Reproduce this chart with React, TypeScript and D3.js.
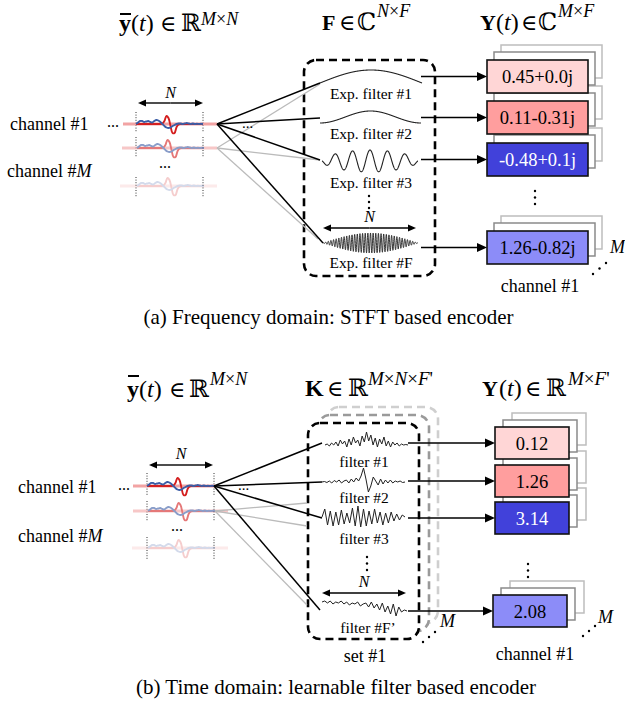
import React from "react";
import * as d3 from "d3";

// ---------------- data ----------------
const redSignal = [0, 0, 0, 0, 0, 0, 0, 0, 0, 0, 0, 0, 0, 0.5, 3, 8, 6, -2, -9, -9, -3, -0.5, 0, 0, 0, 0, 0, 0, 0, 0, 0, 0, 0, 0];
const blueSignal = [0, 1.5, 3, 3, 2, 2.5, 3, 2, 1.5, 3, 4, 3.5, 2, 0, -2, -3.5, -4, -3.5, -2, -1, 0, 0.5, 0.5, 0, 0.5, 1, 0.5, 0, 0.5, 0, 0.3, 0, 0.2, 0];

const expFilterLabels = ["Exp. filter #1", "Exp. filter #2", "Exp. filter #3", "Exp. filter #F"];
const expFilterCycles = [0.5, 1, 5.5, 36];
const expFilterTaper = [0, 0, 0.5, 1];
const stftOutputs = ["0.45+0.0j", "0.11-0.31j", "-0.48+0.1j", "1.26-0.82j"];

const learnedFilter1 = [0, 1, -1, 2, 0, 3, -1, 5, 1, 4, -2, 6, 0, 8, 2, 5, -1, 9, 3, 13, 4, 10, 0, 7, -2, 6, 1, 8, -1, 4, -2, 3, 0, 2, -1, 1, 0, 0.5, 0];
const learnedFilter2 = [0, 0.5, -0.5, 1, -1, 1.5, 0, 2, -1, 1, 2, -1, 3, 0, 4, 1, 6, 14, 3, -10, -4, 5, 1, -3, 3, -2, 2, -1, 2, -1, 1, 0, 1, -0.5, 0];
const learnedFilter3 = [0, 8, -8, 6, -9, 5, -8, 7, -7, 4, -6, 9, -9, 11, -10, 8, -9, 6, -7, 8, -6, 5, -8, 4, -6, 5, -4, 3, -3, 2, 0];
const learnedFilterF = [2, 3, 1, 3, 0, 2, 1, 3, 0, 2, -1, 1, 0, 2, -2, 0, 1, -3, 2, -4, 0, -6, 1, -8, -2, -10, 0, -12, -3, -8, -6, -7];
const learnedFilterLabels = ["filter #1", "filter #2", "filter #3", "filter #F\u2019"];
const timeOutputs = ["0.12", "1.26", "3.14", "2.08"];

const captions = ["(a) Frequency domain: STFT based encoder", "(b) Time domain: learnable filter based encoder"];

// ---------------- styles ----------------
const SERIF = "'Liberation Serif', 'Times New Roman', serif";
const MATH = "'DejaVu Serif', 'Liberation Serif', serif";
const boxFills = ["#ffd6d6", "#ff9e9e", "#4141da", "#8c8cf8"];
const boxTextColors = ["#000", "#000", "#fff", "#000"];
const RED = "#d41f1f";
const BLUE = "#3b5da6";
const PINK = "#f2a3a3";

function wavePath(values: number[], x0: number, x1: number, y0: number, curve: any) {
  const x = d3.scaleLinear().domain([0, values.length - 1]).range([x0, x1]);
  return d3.line<number>().x((_, i) => x(i)).y((v) => y0 - v).curve(curve)(values) || "";
}

function expFilterValues(cycles: number, taper: number, amp: number, n = 700) {
  return d3.range(n).map((i) => {
    const t = i / (n - 1);
    const env = taper ? Math.pow(Math.sin(Math.PI * t), taper) : 1;
    return amp * env * Math.cos(2 * Math.PI * cycles * (t - 0.5));
  });
}

function Arrow({ x1, y1, x2, y2, head = 10, w = 4.5, color = "#000", sw = 1.3 }: any) {
  const ang = Math.atan2(y2 - y1, x2 - x1);
  const bx = x2 - head * Math.cos(ang);
  const by = y2 - head * Math.sin(ang);
  const px = -Math.sin(ang) * w;
  const py = Math.cos(ang) * w;
  return (
    <g>
      <line x1={x1} y1={y1} x2={bx} y2={by} stroke={color} strokeWidth={sw} />
      <polygon points={`${x2},${y2} ${bx + px},${by + py} ${bx - px},${by - py}`} fill={color} />
    </g>
  );
}

function DoubleArrow({ x1, x2, y, label, ly }: any) {
  const m = (x1 + x2) / 2;
  return (
    <g>
      <Arrow x1={m} y1={y} x2={x1} y2={y} head={8} w={3.5} sw={1.4} />
      <Arrow x1={m} y1={y} x2={x2} y2={y} head={8} w={3.5} sw={1.4} />
      <text x={m} y={ly} fontSize={16} fontStyle="italic" textAnchor="middle">{label}</text>
    </g>
  );
}

function Channel({ win, base, pink, opacity, shift = 0 }: any) {
  return (
    <g opacity={opacity}>
      <line x1={pink[0]} x2={pink[1]} y1={base} y2={base} stroke={PINK} strokeWidth={3} />
      <path d={wavePath(redSignal, win[0] + shift, win[1] + shift, base, d3.curveCatmullRom)} fill="none" stroke={RED} strokeWidth={1.9} />
      <path d={wavePath(blueSignal, win[0] + shift, win[1] + shift, base, d3.curveCatmullRom)} fill="none" stroke={BLUE} strokeWidth={1.9} />
    </g>
  );
}

function Dotted({ x, segs }: any) {
  return (
    <g>
      {segs.map((s: number[], i: number) => (
        <line key={i} x1={x} x2={x} y1={s[0]} y2={s[1]} stroke="#333" strokeWidth={1} strokeDasharray="1 1.6" />
      ))}
    </g>
  );
}

function VDots({ x, ys }: any) {
  return <g>{ys.map((y: number, i: number) => <circle key={i} cx={x} cy={y} r={1.2} fill="#000" />)}</g>;
}

function OutputStack({ x, y, w, h, off1, off2, fill, text, textColor }: any) {
  return (
    <g>
      <rect x={x + off2[0]} y={y + off2[1]} width={w} height={h} fill="#fff" stroke="#bdbdbd" strokeWidth={1.5} />
      <rect x={x + off1[0]} y={y + off1[1]} width={w} height={h} fill="#fff" stroke="#8a8a8a" strokeWidth={1.5} />
      <rect x={x} y={y} width={w} height={h} fill={fill} stroke="#111" strokeWidth={1.6} />
      <text x={x + w / 2} y={y + h / 2 + 6.5} fontSize={18.5} textAnchor="middle" fill={textColor}>{text}</text>
    </g>
  );
}

function ChannelLabel({ x, y, m }: any) {
  return (
    <text x={x} y={y} fontSize={18}>
      channel #{m ? <tspan fontStyle="italic">M</tspan> : "1"}
    </text>
  );
}

export default function App() {
  // ---- panel A geometry ----
  const aWin = [136, 203];
  const aFan1: [number, number] = [217, 124];
  const aFan2: [number, number] = [217, 148];
  const aBlack = [[320, 83], [320, 118], [320, 160], [323, 243]];
  const aGray = [[320, 84], [320, 160], [318, 239]];
  const aFilterBase = [83, 117, 161, 243];
  const aFilterAmp = [13, 6, 11, 10];
  const aFilterX = [[320, 422], [320, 421], [322, 418], [323, 418]];
  const aLabelY = [99, 139, 188, 268];
  const aBoxY = [60, 101, 143, 231];

  // ---- panel B geometry ----
  const bWin = [147, 214];
  const bFan1: [number, number] = [214, 486];
  const bFan2: [number, number] = [215, 511];
  const bBlack = [[322, 443], [322, 482], [322, 518], [320, 610]];
  const bGray = [[307, 503], [307, 526], [307, 605]];
  const bFilters = [learnedFilter1, learnedFilter2, learnedFilter3, learnedFilterF];
  const bFilterBase = [445, 482, 517, 604];
  const bFilterX = [[325, 408], [322, 405], [322, 405], [322, 407]];
  const bLabelY = [467, 503, 544, 633];
  const bBoxY = [427, 465, 502, 595];
  const bBoxX = [495, 495, 495, 493];

  return (
    <svg width={625} height={702} style={{ position: "absolute", left: 0, top: 0, background: "#fff" }} fontFamily={SERIF}>
      <rect x={0} y={0} width={625} height={702} fill="#fff" />

      {/* ================= Panel A ================= */}
      <g>
        <text x={119} y={31} fontSize={24} fontWeight="bold">y</text>
        <line x1={120} x2={131} y1={14} y2={14} stroke="#000" strokeWidth={2} />
        <text x={131} y={31} fontSize={24}>(<tspan fontStyle="italic">t</tspan>)</text>
        <text x={160} y={31} fontSize={22} fontFamily={MATH}>∈</text>
        <text x={181} y={31} fontSize={24} fontFamily={MATH}>ℝ</text>
        <text x={201} y={25} fontSize={18} fontStyle="italic">M<tspan fontStyle="normal">×</tspan>N</text>

        <text x={322} y={30} fontSize={22} fontWeight="bold">F</text>
        <text x={339} y={30} fontSize={22} fontFamily={MATH}>∈</text>
        <text x={357} y={30} fontSize={24} fontFamily={MATH}>ℂ</text>
        <text x={377} y={17} fontSize={18} fontStyle="italic">N<tspan fontStyle="normal">×</tspan>F</text>

        <text x={480} y={30} fontSize={22} fontWeight="bold">Y</text>
        <text x={496} y={30} fontSize={24}>(<tspan fontStyle="italic">t</tspan>)</text>
        <text x={521} y={30} fontSize={22} fontFamily={MATH}>∈</text>
        <text x={538} y={30} fontSize={24} fontFamily={MATH}>ℂ</text>
        <text x={558} y={17} fontSize={18} fontStyle="italic">M<tspan fontStyle="normal">×</tspan>F</text>
      </g>

      <ChannelLabel x={10} y={130} />
      <ChannelLabel x={7} y={177} m />
      <text x={107} y={127} fontSize={16}>...</text>
      <text x={165} y={168} fontSize={16} textAnchor="middle">...</text>
      <DoubleArrow x1={138} x2={203} y={103} label="N" ly={98} />
      <Dotted x={aWin[0]} segs={[[112, 132], [137, 157], [177, 197]]} />
      <Dotted x={aWin[1]} segs={[[112, 132], [137, 157], [177, 197]]} />
      <Channel win={aWin} base={186} pink={[120, 217]} opacity={0.22} shift={1} />
      <Channel win={aWin} base={148} pink={[122, 217]} opacity={0.6} shift={1} />
      <Channel win={aWin} base={124} pink={[123, 217]} opacity={1} />

      <rect x={304} y={60} width={131} height={216} rx={12} fill="none" stroke="#000" strokeWidth={2.6} strokeDasharray="8 5" />

      {aGray.map((p, i) => (
        <line key={"ag" + i} x1={aFan2[0]} y1={aFan2[1]} x2={p[0]} y2={p[1]} stroke="#bbb" strokeWidth={1.3} />
      ))}
      {aBlack.map((p, i) => (
        <line key={"ab" + i} x1={aFan1[0]} y1={aFan1[1]} x2={p[0]} y2={p[1]} stroke="#000" strokeWidth={1.5} />
      ))}
      <text x={242} y={128} fontSize={15}>...</text>

      {expFilterCycles.map((c, i) => (
        <path
          key={"ef" + i}
          d={wavePath(expFilterValues(c, expFilterTaper[i], aFilterAmp[i]), aFilterX[i][0], aFilterX[i][1], aFilterBase[i], d3.curveLinear)}
          fill="none"
          stroke="#222"
          strokeWidth={i === 3 ? 0.9 : 1.1}
        />
      ))}
      {expFilterLabels.map((l, i) => (
        <text key={"el" + i} x={371} y={aLabelY[i]} fontSize={15.5} textAnchor="middle">{l}</text>
      ))}
      <VDots x={369} ys={[196, 202, 208]} />
      <DoubleArrow x1={323} x2={416} y={228} label="N" ly={222} />

      {[3, 2, 1, 0].map((i) => (
        <OutputStack key={"ao" + i} x={487} y={aBoxY[i]} w={101} h={33} off1={[7, -8]} off2={[14, -15]} fill={boxFills[i]} text={stftOutputs[i]} textColor={boxTextColors[i]} />
      ))}
      {aBoxY.map((y, i) => (
        <Arrow key={"aa" + i} x1={421} y1={y + 16.5} x2={487} y2={y + 16.5} />
      ))}
      <VDots x={535} ys={[191, 197.5, 204]} />
      <text x={610} y={253} fontSize={18} fontStyle="italic">M</text>
      <circle cx={593} cy={274} r={1.2} />
      <circle cx={599.5} cy={268.5} r={1.2} />
      <circle cx={606} cy={263} r={1.2} />
      <text x={540} y={292} fontSize={18} textAnchor="middle">channel #1</text>

      <text x={328.5} y={324} fontSize={21} textAnchor="middle">{captions[0]}</text>

      {/* ================= Panel B ================= */}
      <g>
        <text x={127} y={397} fontSize={24} fontWeight="bold">y</text>
        <line x1={128} x2={139} y1={376} y2={376} stroke="#000" strokeWidth={2} />
        <text x={139} y={397} fontSize={24}>(<tspan fontStyle="italic">t</tspan>)</text>
        <text x={169} y={397} fontSize={22} fontFamily={MATH}>∈</text>
        <text x={189} y={397} fontSize={24} fontFamily={MATH}>ℝ</text>
        <text x={210} y={385} fontSize={18} fontStyle="italic">M<tspan fontStyle="normal">×</tspan>N</text>

        <text x={305} y={396} fontSize={24} fontWeight="bold">K</text>
        <text x={327} y={396} fontSize={22} fontFamily={MATH}>∈</text>
        <text x={348} y={396} fontSize={24} fontFamily={MATH}>ℝ</text>
        <text x={368} y={385} fontSize={19} fontStyle="italic">M<tspan fontStyle="normal">×</tspan>N<tspan fontStyle="normal">×</tspan>F<tspan fontStyle="normal">'</tspan></text>

        <text x={482} y={396} fontSize={22} fontWeight="bold">Y</text>
        <text x={499} y={396} fontSize={24}>(<tspan fontStyle="italic">t</tspan>)</text>
        <text x={525} y={396} fontSize={22} fontFamily={MATH}>∈</text>
        <text x={546} y={396} fontSize={24} fontFamily={MATH}>ℝ</text>
        <text x={568} y={385} fontSize={19} fontStyle="italic">M<tspan fontStyle="normal">×</tspan>F<tspan fontStyle="normal">'</tspan></text>
      </g>

      <ChannelLabel x={18} y={493} />
      <ChannelLabel x={18} y={542} m />
      <text x={118} y={490} fontSize={16}>...</text>
      <text x={177} y={531} fontSize={16} textAnchor="middle">...</text>
      <DoubleArrow x1={149} x2={213} y={465} label="N" ly={459} />
      <Dotted x={bWin[0]} segs={[[473, 495], [501, 521], [537, 560]]} />
      <Dotted x={bWin[1]} segs={[[473, 495], [501, 521], [537, 560]]} />
      <Channel win={bWin} base={548} pink={[132, 228]} opacity={0.22} shift={1} />
      <Channel win={bWin} base={511} pink={[133, 228]} opacity={0.6} shift={1} />
      <Channel win={bWin} base={486} pink={[133, 215]} opacity={1} />

      <rect x={327} y={407} width={111} height={216} rx={12} fill="#fff" stroke="#cfcfcf" strokeWidth={2.6} strokeDasharray="8 5" />
      <rect x={318} y={415} width={111} height={216} rx={12} fill="#fff" stroke="#9a9a9a" strokeWidth={2.6} strokeDasharray="8 5" />
      <rect x={308} y={423} width={111} height={216} rx={12} fill="#fff" stroke="#000" strokeWidth={2.6} strokeDasharray="8 5" />

      {bGray.map((p, i) => (
        <line key={"bg" + i} x1={bFan2[0]} y1={bFan2[1]} x2={p[0]} y2={p[1]} stroke="#bbb" strokeWidth={1.3} />
      ))}
      {bBlack.map((p, i) => (
        <line key={"bb" + i} x1={bFan1[0]} y1={bFan1[1]} x2={p[0]} y2={p[1]} stroke="#000" strokeWidth={1.5} />
      ))}
      <text x={238} y={490} fontSize={15}>...</text>

      {bFilters.map((f, i) => (
        <path key={"lf" + i} d={wavePath(f, bFilterX[i][0], bFilterX[i][1], bFilterBase[i], d3.curveLinear)} fill="none" stroke="#222" strokeWidth={1} />
      ))}
      {learnedFilterLabels.map((l, i) => (
        <text key={"ll" + i} x={i === 3 ? 368 : 364} y={bLabelY[i]} fontSize={15.5} textAnchor="middle">{l}</text>
      ))}
      <VDots x={367} ys={[557, 563.5, 570]} />
      <DoubleArrow x1={322} x2={406} y={593} label="N" ly={587} />

      <text x={440} y={627} fontSize={18} fontStyle="italic">M</text>
      <circle cx={423} cy={642} r={1.2} />
      <circle cx={429} cy={637} r={1.2} />
      <circle cx={435} cy={632} r={1.2} />
      <text x={365} y={662} fontSize={18} textAnchor="middle">set #1</text>

      {[3, 2, 1, 0].map((i) => (
        <OutputStack key={"bo" + i} x={bBoxX[i]} y={bBoxY[i]} w={74} h={32} off1={[8, -7]} off2={[17, -14]} fill={boxFills[i]} text={timeOutputs[i]} textColor={boxTextColors[i]} />
      ))}
      {bBoxY.map((y, i) => (
        <Arrow key={"ba" + i} x1={408} y1={y + 16} x2={bBoxX[i]} y2={y + 16} />
      ))}
      <VDots x={528} ys={[564, 570.5, 577]} />
      <text x={598} y={623} fontSize={18} fontStyle="italic">M</text>
      <circle cx={583} cy={636} r={1.2} />
      <circle cx={589} cy={631} r={1.2} />
      <circle cx={595} cy={626} r={1.2} />
      <text x={535} y={660} fontSize={18} textAnchor="middle">channel #1</text>

      <text x={336} y={694} fontSize={21} textAnchor="middle">{captions[1]}</text>
    </svg>
  );
}
